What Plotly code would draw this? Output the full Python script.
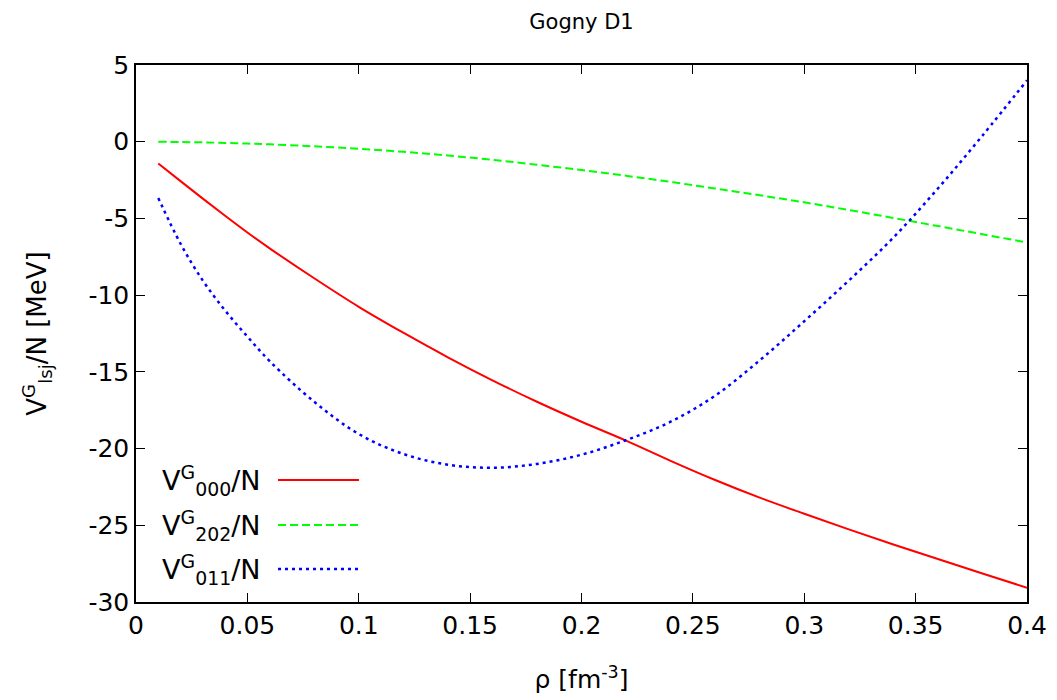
import plotly.graph_objects as go

# density grid (fm^-3)
rho = [0.01, 0.02, 0.03, 0.04, 0.05, 0.06, 0.08, 0.10, 0.12, 0.14, 0.16, 0.18,
       0.20, 0.22, 0.24, 0.26, 0.28, 0.30, 0.32, 0.34, 0.36, 0.38, 0.40]

# V^G_000/N  (MeV)
v000 = [-1.42, -2.57, -3.71, -4.83, -5.92, -6.95, -8.90, -10.76, -12.45, -14.05,
        -15.55, -16.95, -18.25, -19.48, -20.80, -22.05, -23.20, -24.25, -25.27,
        -26.25, -27.20, -28.14, -29.07]

# V^G_202/N  (MeV)
v202 = [0.00, -0.02, -0.04, -0.08, -0.12, -0.17, -0.30, -0.46, -0.66, -0.90,
        -1.18, -1.50, -1.85, -2.22, -2.62, -3.05, -3.49, -3.95, -4.45, -4.97,
        -5.50, -6.03, -6.57]

# V^G_011/N  (MeV)
v011 = [-3.67, -6.65, -9.05, -11.00, -12.70, -14.30, -16.95, -19.05, -20.35, -21.05,
        -21.25, -21.00, -20.40, -19.45, -18.25, -16.55, -14.25, -11.70, -9.05,
        -6.25, -3.05, 0.40, 4.00]

series_names = ["V<sup>G</sup><sub>000</sub>/N",
                "V<sup>G</sup><sub>202</sub>/N",
                "V<sup>G</sup><sub>011</sub>/N"]
series_vals = [v000, v202, v011]
colors = ["#ff0000", "#00ff00", "#0000ff"]
dashes = ["solid", "8px,4px", "3px,4px"]
widths = [2, 2, 2.5]

x_ticks = [0, 0.05, 0.1, 0.15, 0.2, 0.25, 0.3, 0.35, 0.4]
x_ticklabels = ["0", "0.05", "0.1", "0.15", "0.2", "0.25", "0.3", "0.35", "0.4"]
y_ticks = [5, 0, -5, -10, -15, -20, -25, -30]
y_ticklabels = ["5", "0", "-5", "-10", "-15", "-20", "-25", "-30"]

FONT = "DejaVu Sans, Verdana, sans-serif"

# page body has an 8px margin; positions below are in figure pixels
OFF = 8
W, H = 1057, 700
L, T = 136 - OFF, 65 - OFF
R = W - (1027 - OFF)
B = H - (602 - OFF)
pw, ph = W - L - R, H - T - B

def px2paper_x(p):
    return (p - OFF - L) / pw

def px2paper_y(p):
    return (H - B - (p - OFF)) / ph

fig = go.Figure()
for name, vals, c, d, w in zip(series_names, series_vals, colors, dashes, widths):
    fig.add_trace(go.Scatter(x=rho, y=vals, mode="lines", name=name,
                             line=dict(color=c, dash=d, width=w, shape="spline"),
                             showlegend=False))

# gnuplot-style key: text on the left, line sample on the right
key_rows = [480, 525, 569]
for name, c, d, w, yrow in zip(series_names, colors, dashes, widths, key_rows):
    fig.add_annotation(x=px2paper_x(262), y=px2paper_y(yrow), xref="paper", yref="paper",
                       text=name, showarrow=False, xanchor="right", yanchor="middle",
                       font=dict(family=FONT, size=27, color="black"))
    fig.add_shape(type="line", xref="paper", yref="paper",
                  x0=px2paper_x(278), x1=px2paper_x(359),
                  y0=px2paper_y(yrow), y1=px2paper_y(yrow),
                  line=dict(color=c, dash=d, width=w))

axis_common = dict(showline=True, linecolor="black", linewidth=1.5, mirror="ticks",
                   ticks="inside", ticklen=9, tickwidth=1.2, tickcolor="black",
                   showgrid=False, zeroline=False,
                   tickfont=dict(family=FONT, size=25, color="black"))

fig.update_layout(
    width=W, height=H,
    paper_bgcolor="white", plot_bgcolor="white",
    margin=dict(l=L, r=R, t=T, b=B),
    title=dict(text="Gogny D1", x=(L + pw / 2) / W, xanchor="center",
               y=1 - 14 / H, yanchor="middle", pad=dict(t=0, b=0),
               font=dict(family=FONT, size=21, color="black")),
    xaxis=dict(range=[0, 0.4], tickvals=x_ticks, ticktext=x_ticklabels,
               title=dict(text="ρ [fm<sup>-3</sup>]", standoff=32,
                          font=dict(family=FONT, size=25, color="black")),
               **axis_common),
    yaxis=dict(range=[-30, 5], tickvals=y_ticks, ticktext=y_ticklabels,
               title=dict(text="V<sup>G</sup><sub>lsj</sub>/N [MeV]", standoff=34,
                          font=dict(family=FONT, size=26, color="black")),
               **axis_common),
)

fig.write_html("out.html")
